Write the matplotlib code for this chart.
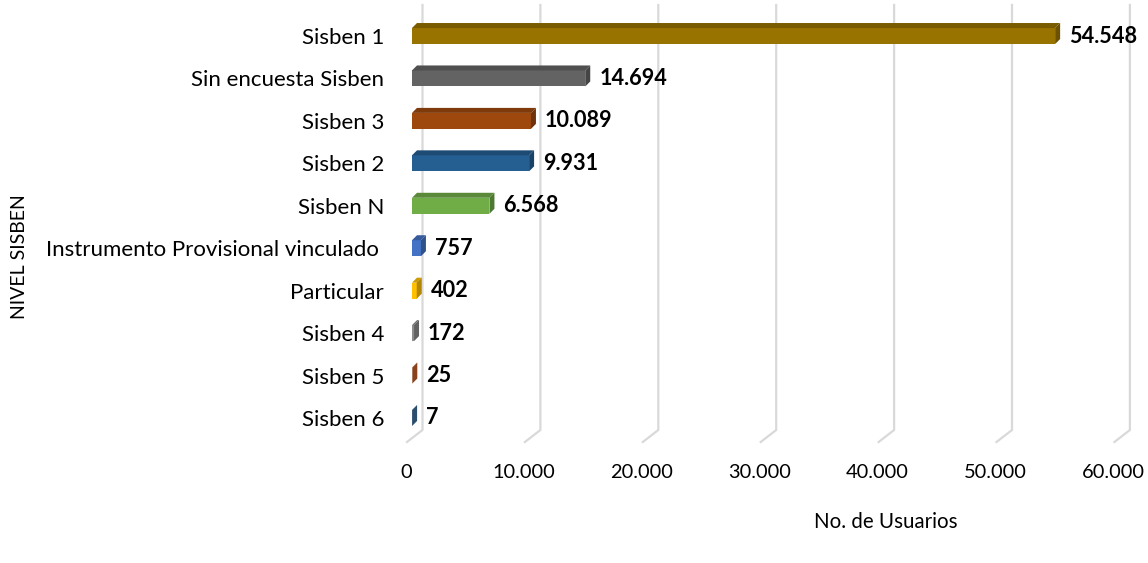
import matplotlib
matplotlib.use("Agg")
import matplotlib.pyplot as plt
import matplotlib.colors as mc
from matplotlib.patches import Polygon
from matplotlib.lines import Line2D
from matplotlib.transforms import ScaledTranslation
import numpy as np

categories = ["Sisben 6", "Sisben 5", "Sisben 4", "Particular",
              "Instrumento Provisional vinculado ", "Sisben N", "Sisben 2",
              "Sisben 3", "Sin encuesta Sisben", "Sisben 1"]
values = [7, 25, 172, 402, 757, 6568, 9931, 10089, 14694, 54548]
value_labels = ["7", "25", "172", "402", "757", "6.568", "9.931", "10.089", "14.694", "54.548"]
colors = ["#3E6F9E", "#C2602A", "#8C8C8C", "#FFC000", "#4472C4", "#70AD47",
          "#255E91", "#9E480E", "#636363", "#997300"]
xticks = [0, 10000, 20000, 30000, 40000, 50000, 60000]
xtick_labels = ["0", "10.000", "20.000", "30.000", "40.000", "50.000", "60.000"]

FONT = "Lato"
plt.rcParams["font.family"] = [FONT, "DejaVu Sans"]

W, H = 1148, 563
DPI = 100
fig = plt.figure(figsize=(W / DPI, H / DPI), dpi=DPI)
ax_left, ax_right = 412, 1119.4
ax_top, ax_bot = 14.8, 439.2
ax = fig.add_axes([ax_left / W, 1 - ax_bot / H, (ax_right - ax_left) / W, (ax_bot - ax_top) / H])
ax.set_xlim(0, 60000)
ax.set_ylim(-0.5, 9.5)
ax.patch.set_visible(False)
for s in ax.spines.values():
    s.set_visible(False)

y = np.arange(len(categories))
bar_h = 0.377

def darker(c, f):
    r, g, b = mc.to_rgb(c)
    return (r * f, g * f, b * f)

# gridlines (back wall + floor), drawn in display coordinates behind the axes
fig.canvas.draw()
to_disp = ax.transData.transform
for t in xticks:
    px, _ = to_disp((t, 0))
    back_x = px + 10.5
    front_x = px - 5
    line = Line2D([back_x, back_x, front_x], [H - 5, H - 430, H - 442],
                  transform=None, color="#d9d9d9", lw=1.6, zorder=-1)
    fig.add_artist(line)

# bars: front face from barh, plus depth faces
ax.barh(y, values, height=bar_h, color=colors, zorder=2, linewidth=0)
dx, dy = 5.0, 5.0
for yi, v, c in zip(y, values, colors):
    (x0, yb) = to_disp((0, yi - bar_h / 2))
    (x1, yt) = to_disp((v, yi + bar_h / 2))
    top = Polygon([[x0, yt], [x1, yt], [x1 + dx, yt + dy], [x0 + dx, yt + dy]],
                  closed=True, transform=None, facecolor=darker(c, 0.8), edgecolor="none", zorder=2)
    side = Polygon([[x1, yb], [x1, yt], [x1 + dx, yt + dy], [x1 + dx, yb + dy]],
                   closed=True, transform=None, facecolor=darker(c, 0.7), edgecolor="none", zorder=2)
    fig.add_artist(top)
    fig.add_artist(side)

for yi, v, lab in zip(y, values, value_labels):
    ax.annotate(lab, (v, yi), xytext=(14, 0), textcoords="offset pixels",
                ha="left", va="center", fontsize=15.6, fontweight="bold", color="black")

ax.set_yticks(y)
ax.set_yticklabels(categories, fontsize=16)
ax.set_xticks(xticks)
ax.set_xticklabels(xtick_labels, fontsize=14.4)
ax.tick_params(axis="y", length=0, pad=20)
ax.tick_params(axis="x", length=0, pad=18)
off = ScaledTranslation(-6 / DPI, 0, fig.dpi_scale_trans)
for lbl in ax.get_xticklabels():
    lbl.set_transform(lbl.get_transform() + off)

fig.text(20 / W, 1 - 257 / H, "NIVEL SISBEN", rotation=90, ha="center", va="center", fontsize=14)
fig.text(886 / W, 1 - 522 / H, "No. de Usuarios", ha="center", va="center", fontsize=14.8)

fig.savefig("out.png", dpi=DPI)
